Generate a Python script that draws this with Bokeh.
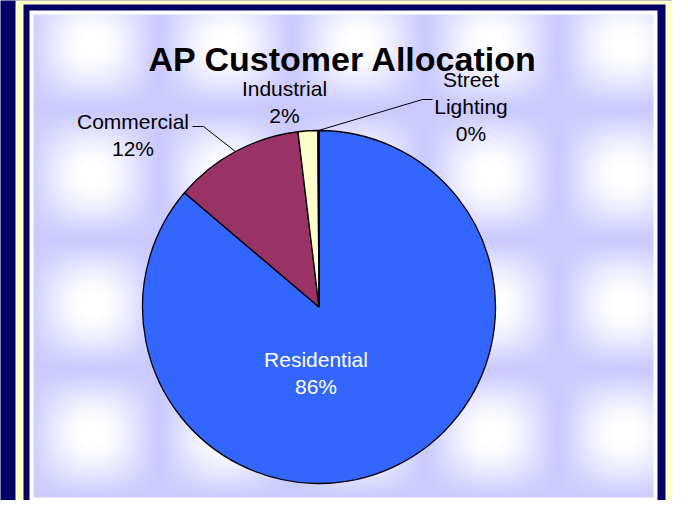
import numpy as np
from bokeh.plotting import figure
from bokeh.models import Range1d, ColumnDataSource
from bokeh.core.properties import value
from bokeh.embed import file_html
from bokeh.resources import INLINE

# ---------------- data ----------------
chart_title = "AP Customer Allocation"
categories = ["Residential", "Commercial", "Industrial", "Street Lighting"]
shares = [86.2, 11.9, 1.8, 0.1]          # percent
slice_colors = ["#3366FF", "#993366", "#FFFFCC", "#CCFFFF"]
label_colors = ["white", "black", "black", "black"]

# ---------------- layout (screen px of the 688x516 window) ----------------
W, H = 672, 500
def X(sx):
    return sx - 8
def Y(sy):
    return 508 - sy

NAVY = "#000066"
p = figure(width=W, height=H, x_range=Range1d(0, W), y_range=Range1d(0, H),
           output_backend="svg", toolbar_location=None, min_border=0,
           x_axis_location=None, y_axis_location=None,
           background_fill_color=NAVY, border_fill_color=NAVY)
p.grid.visible = False
p.outline_line_color = None

# frames
p.quad(left=[X(23)], right=[X(681)], bottom=[-30], top=[Y(4)], fill_color="#FFFFCC", line_color=None)
p.quad(left=[X(31)], right=[X(673)], bottom=[-30], top=[Y(12)], fill_color=NAVY, line_color=None)
p.quad(left=[X(37)], right=[X(665)], bottom=[Y(509)], top=[Y(18)], fill_color="white", line_color=None)

# textured lavender background
tw, th = 620, 483
sx = 41 + np.arange(tw) + 0.5
sy = 505 - np.arange(th) - 0.5
fx = 0.5 * (1 + np.cos(2 * np.pi * (sx - 100) / 133.0))
fy = 0.5 * (1 + np.cos(2 * np.pi * (sy - 52) / 130.0))
w = np.clip((np.outer(fy, fx)) ** 0.6 * 1.05, 0, 1)
base = np.array([202, 202, 255], dtype=float)
r = base[0] + (255 - base[0]) * w
g = base[1] + (255 - base[1]) * w
b = np.full_like(w, 255.0)
img = np.empty((th, tw), dtype=np.uint32)
view = img.view(dtype=np.uint8).reshape((th, tw, 4))
view[:, :, 0] = r.astype(np.uint8)
view[:, :, 1] = g.astype(np.uint8)
view[:, :, 2] = b.astype(np.uint8)
view[:, :, 3] = 255
p.image_rgba(image=[img], x=X(41), y=Y(505), dw=tw, dh=th)

# ---------------- pie ----------------
cx, cy, rad = X(326.5), Y(314.5), 176.5
fr = np.array(shares) / sum(shares)
ends_cum = np.cumsum(fr)
starts = np.pi / 2 - np.concatenate([[0], ends_cum[:-1]]) * 2 * np.pi
ends = np.pi / 2 - ends_cum * 2 * np.pi
src = ColumnDataSource(dict(start=starts, end=ends, color=slice_colors, cat=categories))
p.wedge(x=cx, y=cy, radius=rad, start_angle="start", end_angle="end", direction="clock",
        fill_color="color", line_color="black", line_width=1.3, source=src)
mids = (starts + ends) / 2

# leader lines (from slice mid-angle on the rim to elbow)
def rim(i):
    return cx + rad * np.cos(mids[i]), cy + rad * np.sin(mids[i])
x1, y1 = rim(1)
p.line([x1, X(211), X(200)], [y1, Y(134), Y(134)], line_color="black", line_width=1)
x3, y3 = rim(3)
p.line([x3, X(430), X(440)], [y3, Y(107), Y(107)], line_color="black", line_width=1)

# ---------------- labels ----------------
label_pos = [(323.5, 367), (140.5, 129), (292, 96), (478.5, 87)]   # centre x, first baseline
line_step = 27
tx, ty, tt, tc = [], [], [], []
for i, cat in enumerate(categories):
    lines = cat.split(" ") + [f"{round(shares[i])}%"]
    lx, ly = label_pos[i]
    for k, s in enumerate(lines):
        tx.append(X(lx)); ty.append(Y(ly + k * line_step)); tt.append(s); tc.append(label_colors[i])
p.text(x=tx, y=ty, text=tt, text_color=tc, text_font=value("Liberation Sans"),
       text_font_size="21px", text_align="center", text_baseline="alphabetic")

p.text(x=[X(350.5)], y=[Y(66)], text=[chart_title], text_font=value("Liberation Sans"),
       text_font_size="34px", text_font_style="bold", text_color="black",
       text_align="center", text_baseline="alphabetic")

open("out.html", "w").write(file_html(p, INLINE, title=chart_title))
